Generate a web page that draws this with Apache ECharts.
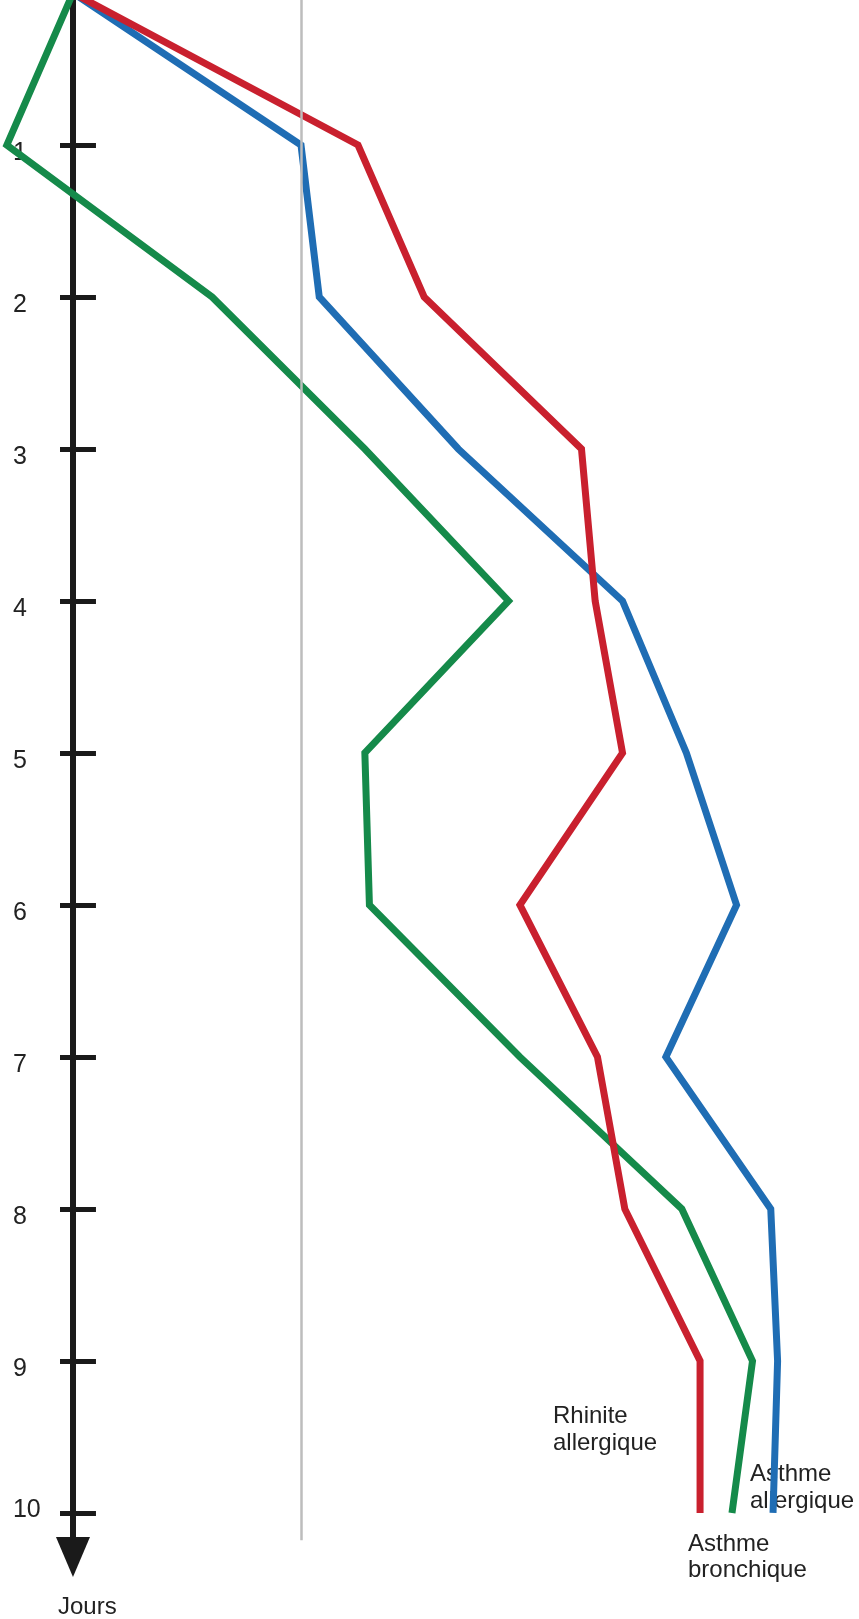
<!DOCTYPE html>
<html>
<head>
<meta charset="utf-8">
<script src="https://cdn.jsdelivr.net/npm/echarts@6/dist/echarts.min.js"></script>
<style>
html,body{margin:0;padding:0;background:#fff;}
#chart{width:859px;height:1619px;}
</style>
</head>
<body>
<div id="chart"></div>
<script>
// Days (vertical axis, downward)
var days = [0, 1, 2, 3, 4, 5, 6, 7, 8, 9, 10];
var dayTicks = [0, 1, 2, 3, 4, 5, 6, 7, 8, 9, 10];
// Horizontal values (arbitrary units: axis = 0, grey reference line = 100)
var rhiniteAllergique = [0, 125, 154, 223, 229, 241, 196, 230, 242, 275, 275];
var asthmeAllergique  = [0, 100, 108, 169, 241, 269, 291, 260, 306, 309, 307];
var asthmeBronchique  = [0, -29, 61, 128, 191, 128, 130, 196, 267, 298, 289];
var referenceLine = [100, 10.18];
var seriesNames = ['Rhinite allergique', 'Asthme allergique', 'Asthme bronchique'];

function pairs(vals) { return days.map(function (d, i) { return [vals[i], d]; }); }

var chart = echarts.init(document.getElementById('chart'), null, {renderer: 'canvas'});
var lineW = 7;
var FONT = '"Liberation Sans", Arial, sans-serif';
var X_MIN = -32, X_MAX = 344.7, W = 859;
var axisOffset = -(0 - X_MIN) * W / (X_MAX - X_MIN); // move y axis to x = 0
var option = {
  animation: false,
  backgroundColor: '#ffffff',
  grid: {left: 0, right: 0, top: -7, bottom: 62, containLabel: false, outerBoundsMode: 'none'},
  xAxis: {type: 'value', min: X_MIN, max: X_MAX, show: false},
  yAxis: [{
    type: 'value', inverse: true, min: 0, max: 10.29, position: 'left', offset: axisOffset,
    splitLine: {show: false},
    axisLine: {show: true, onZero: false, lineStyle: {color: '#1a1a1a', width: 6},
      symbol: ['triangle', 'none'], symbolSize: [34, 40]},
    axisTick: {show: true, inside: false, length: 13, customValues: dayTicks,
      lineStyle: {color: '#1a1a1a', width: 5}},
    axisLabel: {show: true, customValues: dayTicks.slice(1), margin: 60, align: 'left',
      fontFamily: FONT, fontSize: 25, color: '#222',
      formatter: function (v) { return v === 10 ? '{t|' + v + '}' : '{d|' + v + '}'; },
      rich: {
        d: {fontSize: 25, fontFamily: FONT, color: '#222', padding: [16, 0, 0, 0]},
        t: {fontSize: 25, fontFamily: FONT, color: '#222', padding: [0, 0, 6, 0]}
      }}
  }, {
    type: 'value', inverse: true, min: 0, max: 10.29, position: 'left', offset: axisOffset,
    splitLine: {show: false},
    axisLine: {show: false, onZero: false},
    axisTick: {show: true, inside: true, length: 23, customValues: dayTicks,
      lineStyle: {color: '#1a1a1a', width: 5}},
    axisLabel: {show: false}
  }],
  series: [{
    name: seriesNames[1], type: 'line', data: pairs(asthmeAllergique), showSymbol: false,
    clip: false, lineStyle: {color: '#1f6db4', width: lineW, join: 'miter'},
    markLine: {silent: true, symbol: 'none', label: {show: false},
      lineStyle: {color: '#bdbdbd', width: 2.5, type: 'solid'},
      data: [[{coord: [referenceLine[0], 0]}, {coord: [referenceLine[0], referenceLine[1]]}]]},
    z: 2
  }, {
    name: seriesNames[2], type: 'line', data: pairs(asthmeBronchique), showSymbol: false,
    clip: false, lineStyle: {color: '#158a4a', width: lineW, join: 'miter'}, z: 3
  }, {
    name: seriesNames[0], type: 'line', data: pairs(rhiniteAllergique), showSymbol: false,
    clip: false, lineStyle: {color: '#c9202e', width: lineW, join: 'miter'}, z: 4
  }],
  graphic: [
    {type: 'text', left: 553, top: 1403, style: {text: 'Rhinite\nallergique', fill: '#222',
      font: '24px ' + FONT, lineHeight: 27}},
    {type: 'text', left: 750, top: 1461, style: {text: 'Asthme\nallergique', fill: '#222',
      font: '24px ' + FONT, lineHeight: 27}},
    {type: 'text', left: 688, top: 1531, style: {text: 'Asthme\nbronchique', fill: '#222',
      font: '24px ' + FONT, lineHeight: 26}},
    {type: 'text', left: 58, top: 1595, style: {text: 'Jours', fill: '#222',
      font: '24px ' + FONT}}
  ]
};
chart.setOption(option);
</script>
</body>
</html>
